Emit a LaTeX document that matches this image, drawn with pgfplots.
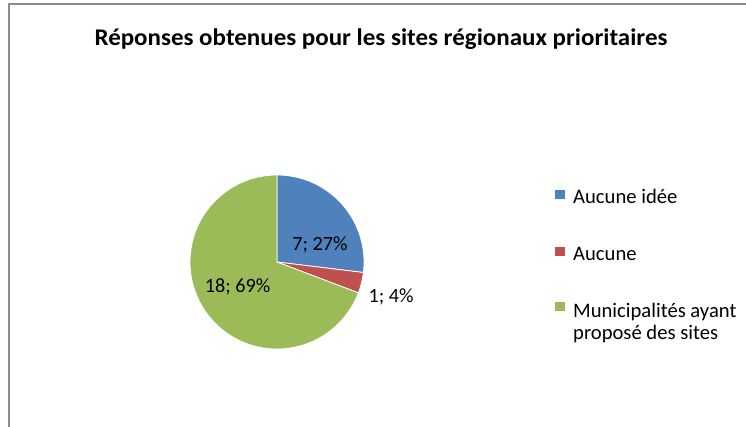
\documentclass[border=0pt]{standalone}
\usepackage{fontspec}
\setmainfont{Carlito}
\usepackage{pgfplots}
\usepackage{pgfplotstable}
\pgfplotsset{compat=1.18}
\definecolor{cA}{HTML}{4F81BD}
\definecolor{cB}{HTML}{C0504D}
\definecolor{cC}{HTML}{9BBB59}
\definecolor{frame}{HTML}{8C8C8C}
\pgfplotstableread{
label value
A 7
B 1
C 18
}\piedata
\pgfplotstablegetelem{0}{value}\of\piedata \let\vA\pgfplotsretval
\pgfplotstablegetelem{1}{value}\of\piedata \let\vB\pgfplotsretval
\pgfplotstablegetelem{2}{value}\of\piedata \let\vC\pgfplotsretval
\pgfmathsetmacro\tot{\vA+\vB+\vC}
\pgfmathsetmacro\aA{90}
\pgfmathsetmacro\aB{90-360*\vA/\tot}
\pgfmathsetmacro\aC{\aB-360*\vB/\tot}
\pgfmathsetmacro\aD{\aC-360*\vC/\tot}
\begin{document}
\begin{tikzpicture}
\begin{axis}[
  width=746bp, height=427bp, scale only axis,
  xmin=0, xmax=746, ymin=0, ymax=427, y dir=reverse,
  hide axis, clip=false,
]
% frame
\draw[frame, line width=1.5bp] (axis cs:9,427) -- (axis cs:9,4) -- (axis cs:746,4);
% pie slices
\addplot[fill=cA, draw=white, line width=0.8bp, domain=\aB:\aA, samples=80, variable=\t]
  ({277+87*cos(\t)},{262-87*sin(\t)}) -- (axis cs:277,262) -- cycle;
\addplot[fill=cB, draw=white, line width=0.8bp, domain=\aC:\aB, samples=20, variable=\t]
  ({277+87*cos(\t)},{262-87*sin(\t)}) -- (axis cs:277,262) -- cycle;
\addplot[fill=cC, draw=white, line width=0.8bp, domain=\aD:\aC, samples=160, variable=\t]
  ({277+87*cos(\t)},{262-87*sin(\t)}) -- (axis cs:277,262) -- cycle;
% title
\node[anchor=base, inner sep=0pt, font=\bfseries\fontsize{24}{28}\selectfont] at (axis cs:381,46) {\scalebox{1.045}[1]{Réponses obtenues pour les sites régionaux prioritaires}};
% data labels
\node[anchor=base, font=\fontsize{20.3}{24}\selectfont] at (axis cs:320,250) {7; 27\%};
\node[anchor=base, font=\fontsize{20.3}{24}\selectfont] at (axis cs:237.5,292) {18; 69\%};
\node[anchor=base, font=\fontsize{20.3}{24}\selectfont] at (axis cs:391,302) {1; 4\%};
% legend
\fill[cA] (axis cs:555,190) rectangle (axis cs:565,199);
\fill[cB] (axis cs:555,247) rectangle (axis cs:565,256);
\fill[cC] (axis cs:555,302) rectangle (axis cs:565,311);
\node[anchor=base west, inner sep=0pt, font=\fontsize{20.7}{24}\selectfont] at (axis cs:573,203) {Aucune idée};
\node[anchor=base west, inner sep=0pt, font=\fontsize{20.7}{24}\selectfont] at (axis cs:573,260) {Aucune};
\node[anchor=base west, inner sep=0pt, font=\fontsize{20.7}{24}\selectfont] at (axis cs:573,317) {Municipalités ayant};
\node[anchor=base west, inner sep=0pt, font=\fontsize{20.7}{24}\selectfont] at (axis cs:573,339) {proposé des sites};
\end{axis}
\pgfresetboundingbox
\path (0,0) rectangle (746bp,427bp);
\end{tikzpicture}
\end{document}
